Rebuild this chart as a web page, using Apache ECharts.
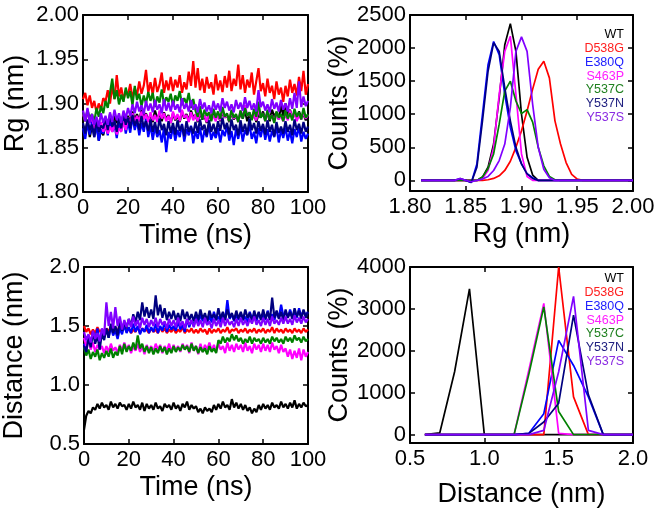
<!DOCTYPE html>
<html><head><meta charset="utf-8">
<script src="https://cdn.jsdelivr.net/npm/echarts@6/dist/echarts.min.js"></script>
<style>html,body{margin:0;padding:0;background:#fff}#c{width:661px;height:510px}</style>
</head><body><div id="c"></div>
<script>
const names = ['WT','D538G','E380Q','S463P','Y537C','Y537N','Y537S'];
const colors = ['#000000','#ff0000','#0000ff','#ff00ff','#008000','#000080','#8000ff'];
const legendColors = ['#000000','#ff2020','#2020ff','#ff20ff','#208020','#202080','#8a2be2'];

const time = [0,1,2,3,4,5,6,7,8,9,10,11,12,13,14,15,16,17,18,19,20,21,22,23,24,25,26,27,28,29,30,31,32,33,34,35,36,37,38,39,40,41,42,43,44,45,46,47,48,49,50,51,52,53,54,55,56,57,58,59,60,61,62,63,64,65,66,67,68,69,70,71,72,73,74,75,76,77,78,79,80,81,82,83,84,85,86,87,88,89,90,91,92,93,94,95,96,97,98,99,100];

// Rg (nm) vs time
const rgWT = [1.875,1.868,1.880,1.862,1.874,1.866,1.878,1.858,1.870,1.864,
1.876,1.870,1.882,1.873,1.886,1.878,1.884,1.876,1.889,1.880,
1.886,1.879,1.891,1.882,1.888,1.880,1.893,1.884,1.889,1.881,
1.887,1.879,1.892,1.883,1.888,1.880,1.890,1.882,1.887,1.878,
1.889,1.881,1.886,1.879,1.891,1.883,1.888,1.880,1.892,1.884,
1.887,1.879,1.890,1.882,1.886,1.878,1.889,1.881,1.893,1.883,
1.888,1.880,1.891,1.884,1.887,1.879,1.890,1.882,1.886,1.881,
1.889,1.883,1.892,1.880,1.887,1.882,1.890,1.879,1.888,1.884,
1.891,1.883,1.889,1.880,1.893,1.885,1.890,1.882,1.898,1.886,
1.900,1.887,1.893,1.884,1.889,1.882,1.891,1.884,1.888,1.881,1.887];
const rgD538G = [1.905,1.912,1.898,1.909,1.895,1.903,1.890,1.900,1.893,1.906,
1.902,1.915,1.900,1.920,1.905,1.932,1.908,1.918,1.904,1.914,
1.910,1.922,1.906,1.917,1.909,1.925,1.911,1.920,1.938,1.912,
1.924,1.910,1.929,1.913,1.921,1.935,1.912,1.926,1.915,1.930,
1.914,1.927,1.918,1.932,1.912,1.924,1.916,1.936,1.920,1.948,
1.918,1.940,1.915,1.928,1.912,1.930,1.917,1.924,1.910,1.933,
1.915,1.926,1.913,1.931,1.918,1.937,1.914,1.928,1.920,1.944,
1.916,1.932,1.912,1.927,1.918,1.935,1.910,1.925,1.940,1.914,
1.923,1.908,1.928,1.912,1.920,1.905,1.925,1.910,1.918,1.902,
1.920,1.908,1.927,1.912,1.922,1.909,1.930,1.914,1.937,1.910,1.922];
const rgE380Q = [1.872,1.860,1.878,1.865,1.880,1.862,1.875,1.858,1.871,1.866,
1.878,1.864,1.882,1.868,1.876,1.861,1.880,1.869,1.884,1.866,
1.879,1.867,1.885,1.870,1.881,1.864,1.878,1.868,1.883,1.862,
1.876,1.859,1.874,1.862,1.870,1.856,1.872,1.845,1.868,1.860,
1.874,1.858,1.870,1.862,1.877,1.857,1.871,1.864,1.875,1.855,
1.869,1.860,1.873,1.856,1.870,1.862,1.876,1.859,1.868,1.861,
1.872,1.856,1.870,1.863,1.875,1.858,1.869,1.853,1.871,1.860,
1.874,1.857,1.870,1.864,1.876,1.860,1.868,1.855,1.872,1.862,
1.875,1.859,1.871,1.857,1.869,1.862,1.874,1.856,1.870,1.861,
1.873,1.858,1.869,1.855,1.871,1.862,1.874,1.857,1.868,1.860,1.866];
const rgS463P = [1.888,1.880,1.892,1.878,1.885,1.872,1.882,1.870,1.879,1.868,
1.876,1.866,1.874,1.868,1.878,1.865,1.872,1.868,1.880,1.870,
1.884,1.876,1.889,1.879,1.886,1.880,1.891,1.882,1.888,1.879,
1.890,1.881,1.887,1.879,1.892,1.883,1.889,1.880,1.886,1.878,
1.891,1.882,1.888,1.880,1.893,1.884,1.887,1.879,1.890,1.881,
1.888,1.880,1.892,1.883,1.887,1.879,1.890,1.882,1.886,1.880,
1.889,1.881,1.893,1.884,1.888,1.880,1.891,1.883,1.887,1.879,
1.892,1.884,1.898,1.886,1.890,1.882,1.888,1.881,1.893,1.885,
1.889,1.880,1.891,1.883,1.887,1.879,1.890,1.882,1.886,1.880,
1.888,1.881,1.892,1.884,1.889,1.880,1.887,1.882,1.890,1.883,1.887];
const rgY537C = [1.890,1.880,1.893,1.883,1.888,1.879,1.895,1.885,1.897,1.889,
1.903,1.895,1.912,1.928,1.905,1.915,1.899,1.910,1.902,1.918,
1.906,1.914,1.898,1.920,1.904,1.911,1.897,1.909,1.900,1.913,
1.903,1.912,1.896,1.908,1.901,1.916,1.899,1.907,1.902,1.911,
1.897,1.909,1.903,1.914,1.898,1.906,1.900,1.912,1.895,1.905,
1.892,1.885,1.897,1.882,1.893,1.886,1.890,1.880,1.894,1.884,
1.891,1.883,1.896,1.885,1.889,1.880,1.893,1.884,1.888,1.879,
1.892,1.883,1.895,1.886,1.890,1.881,1.894,1.885,1.902,1.884,
1.889,1.880,1.893,1.882,1.887,1.878,1.891,1.884,1.888,1.880,
1.892,1.883,1.889,1.881,1.894,1.885,1.890,1.882,1.895,1.884,1.888];
const rgY537N = [1.878,1.866,1.882,1.870,1.876,1.862,1.880,1.868,1.875,1.872,
1.884,1.870,1.888,1.874,1.880,1.868,1.886,1.872,1.890,1.876,
1.884,1.872,1.887,1.875,1.882,1.870,1.886,1.873,1.880,1.869,
1.882,1.868,1.879,1.866,1.883,1.870,1.877,1.864,1.880,1.867,
1.878,1.865,1.881,1.869,1.876,1.863,1.880,1.868,1.874,1.866,
1.879,1.867,1.882,1.870,1.876,1.864,1.881,1.868,1.877,1.866,
1.880,1.869,1.884,1.871,1.878,1.865,1.882,1.870,1.876,1.864,
1.881,1.868,1.877,1.865,1.883,1.870,1.878,1.866,1.880,1.869,
1.877,1.865,1.881,1.868,1.876,1.863,1.879,1.867,1.874,1.866,
1.880,1.868,1.876,1.864,1.882,1.870,1.877,1.866,1.879,1.868,1.874];
const rgY537S = [1.892,1.880,1.895,1.878,1.888,1.876,1.885,1.874,1.889,1.878,
1.886,1.876,1.890,1.879,1.893,1.881,1.889,1.878,1.892,1.883,
1.895,1.886,1.899,1.889,1.902,1.891,1.898,1.888,1.903,1.892,
1.900,1.890,1.904,1.893,1.899,1.889,1.905,1.892,1.901,1.891,
1.903,1.893,1.899,1.890,1.906,1.894,1.900,1.891,1.904,1.893,
1.899,1.890,1.905,1.894,1.901,1.891,1.898,1.889,1.903,1.893,
1.900,1.891,1.906,1.895,1.902,1.892,1.899,1.890,1.904,1.894,
1.901,1.892,1.907,1.895,1.903,1.893,1.900,1.891,1.915,1.896,
1.902,1.892,1.899,1.890,1.905,1.894,1.901,1.891,1.904,1.893,
1.900,1.891,1.906,1.894,1.912,1.895,1.925,1.896,1.908,1.897,1.903];

// Distance (nm) vs time
const dWT = [0.62,0.74,0.78,0.76,0.81,0.79,0.84,0.80,0.85,0.81,
0.83,0.79,0.86,0.81,0.84,0.80,0.85,0.82,0.83,0.79,
0.84,0.80,0.86,0.81,0.83,0.79,0.85,0.78,0.84,0.80,
0.83,0.79,0.85,0.80,0.82,0.78,0.84,0.81,0.83,0.79,
0.85,0.80,0.83,0.78,0.84,0.81,0.86,0.79,0.83,0.80,
0.82,0.77,0.80,0.76,0.81,0.78,0.80,0.77,0.83,0.79,
0.84,0.80,0.86,0.81,0.83,0.79,0.88,0.81,0.85,0.80,
0.84,0.79,0.83,0.78,0.81,0.76,0.80,0.77,0.83,0.79,
0.84,0.80,0.83,0.79,0.85,0.81,0.83,0.80,0.86,0.81,
0.84,0.80,0.85,0.81,0.87,0.80,0.84,0.81,0.85,0.82,0.83];
const dD538G = [1.50,1.45,1.48,1.43,1.47,1.44,1.49,1.45,1.47,1.44,
1.48,1.45,1.50,1.46,1.49,1.45,1.51,1.46,1.50,1.45,
1.48,1.44,1.47,1.45,1.49,1.44,1.48,1.46,1.47,1.44,
1.48,1.45,1.47,1.44,1.49,1.45,1.48,1.44,1.47,1.45,
1.48,1.44,1.47,1.45,1.49,1.44,1.47,1.45,1.48,1.44,
1.47,1.44,1.48,1.45,1.47,1.43,1.48,1.44,1.47,1.45,
1.48,1.44,1.47,1.45,1.49,1.44,1.47,1.46,1.48,1.44,
1.47,1.45,1.48,1.44,1.47,1.45,1.48,1.44,1.47,1.45,
1.48,1.44,1.47,1.45,1.49,1.44,1.48,1.45,1.47,1.44,
1.48,1.45,1.47,1.44,1.48,1.45,1.47,1.44,1.48,1.45,1.47];
const dE380Q = [1.35,1.30,1.42,1.34,1.45,1.38,1.48,1.36,1.44,1.40,
1.47,1.40,1.50,1.42,1.46,1.39,1.48,1.43,1.51,1.44,
1.49,1.44,1.52,1.45,1.50,1.43,1.48,1.45,1.51,1.44,
1.49,1.45,1.52,1.44,1.50,1.46,1.53,1.45,1.51,1.47,
1.50,1.46,1.54,1.47,1.51,1.45,1.56,1.49,1.55,1.50,
1.58,1.52,1.60,1.54,1.57,1.51,1.59,1.53,1.62,1.55,
1.58,1.53,1.61,1.55,1.72,1.56,1.60,1.54,1.59,1.55,
1.61,1.55,1.58,1.53,1.62,1.56,1.60,1.54,1.61,1.56,
1.59,1.55,1.63,1.56,1.60,1.55,1.62,1.57,1.68,1.58,
1.62,1.57,1.64,1.58,1.61,1.57,1.65,1.58,1.63,1.59,1.62];
const dS463P = [1.40,1.33,1.38,1.30,1.36,1.28,1.34,1.30,1.33,1.27,
1.33,1.28,1.35,1.29,1.32,1.27,1.34,1.29,1.36,1.30,
1.34,1.27,1.33,1.29,1.35,1.28,1.33,1.26,1.34,1.29,
1.33,1.28,1.35,1.30,1.34,1.27,1.33,1.29,1.35,1.28,
1.34,1.29,1.33,1.28,1.35,1.30,1.34,1.27,1.36,1.29,
1.33,1.26,1.35,1.28,1.34,1.30,1.36,1.29,1.34,1.28,
1.35,1.30,1.33,1.27,1.36,1.29,1.34,1.28,1.35,1.30,
1.34,1.28,1.36,1.29,1.33,1.27,1.35,1.30,1.34,1.28,
1.35,1.29,1.34,1.28,1.36,1.30,1.33,1.27,1.34,1.28,
1.31,1.24,1.30,1.22,1.29,1.23,1.31,1.21,1.30,1.24,1.28];
const dY537C = [1.32,1.25,1.30,1.22,1.28,1.24,1.30,1.21,1.27,1.23,
1.29,1.24,1.31,1.23,1.28,1.25,1.33,1.26,1.35,1.28,
1.33,1.29,1.36,1.30,1.42,1.31,1.35,1.28,1.33,1.27,
1.32,1.26,1.31,1.27,1.33,1.28,1.32,1.26,1.31,1.27,
1.33,1.28,1.32,1.29,1.34,1.30,1.33,1.28,1.35,1.29,
1.33,1.27,1.32,1.28,1.31,1.26,1.33,1.28,1.31,1.27,
1.38,1.35,1.41,1.36,1.40,1.37,1.43,1.38,1.42,1.37,
1.40,1.35,1.39,1.36,1.41,1.35,1.40,1.37,1.39,1.35,
1.40,1.36,1.39,1.35,1.41,1.37,1.40,1.36,1.39,1.35,
1.41,1.37,1.40,1.36,1.42,1.38,1.40,1.36,1.41,1.37,1.39];
const dY537N = [1.33,1.28,1.40,1.32,1.45,1.35,1.42,1.30,1.44,1.38,
1.48,1.40,1.52,1.44,1.50,1.42,1.55,1.46,1.53,1.48,
1.56,1.50,1.60,1.53,1.62,1.55,1.70,1.58,1.66,1.57,
1.64,1.56,1.76,1.59,1.68,1.57,1.65,1.55,1.62,1.56,
1.63,1.55,1.61,1.54,1.64,1.56,1.62,1.55,1.60,1.54,
1.62,1.55,1.64,1.56,1.61,1.54,1.63,1.57,1.60,1.55,
1.65,1.56,1.62,1.55,1.64,1.57,1.61,1.55,1.63,1.56,
1.62,1.55,1.64,1.57,1.61,1.54,1.63,1.56,1.62,1.55,
1.64,1.56,1.62,1.55,1.74,1.57,1.63,1.56,1.62,1.55,
1.64,1.57,1.62,1.56,1.65,1.58,1.63,1.56,1.64,1.57,1.62];
const dY537S = [1.45,1.38,1.43,1.36,1.46,1.39,1.44,1.37,1.48,1.42,
1.70,1.50,1.62,1.48,1.66,1.50,1.58,1.47,1.55,1.49,
1.56,1.49,1.58,1.50,1.55,1.48,1.57,1.51,1.56,1.49,
1.55,1.50,1.57,1.49,1.56,1.51,1.54,1.48,1.56,1.50,
1.55,1.49,1.57,1.50,1.54,1.48,1.56,1.51,1.55,1.49,
1.56,1.50,1.55,1.49,1.57,1.51,1.54,1.48,1.56,1.50,
1.55,1.49,1.57,1.50,1.56,1.51,1.54,1.49,1.56,1.50,
1.57,1.51,1.55,1.50,1.56,1.52,1.58,1.51,1.55,1.50,
1.57,1.51,1.56,1.50,1.58,1.52,1.55,1.51,1.57,1.52,
1.58,1.52,1.56,1.51,1.59,1.53,1.57,1.52,1.58,1.53,1.56];

// Rg histogram
const rgBins = [1.810,1.815,1.820,1.825,1.830,1.835,1.840,1.845,1.850,1.855,1.860,1.865,1.870,1.875,1.880,1.885,1.890,1.895,1.900,1.905,1.910,1.915,1.920,1.925,1.930,1.935,1.940,1.945,1.950,1.955,1.960,1.965,1.970,1.975,1.980,1.985,1.990,1.995,2.000];
const hRgWT    = [0,0,0,0,0,0,0,0,0,0,0,50,200,550,1250,2050,2370,1950,1000,350,80,0,0,0,0,0,0,0,0,0,0,0,0,0,0,0,0,0,0];
const hRgD538G = [0,0,0,0,0,0,0,0,0,0,0,0,10,30,70,150,290,500,750,1050,1380,1680,1800,1550,900,550,270,90,20,0,0,0,0,0,0,0,0,0,0];
const hRgE380Q = [0,0,0,0,0,0,0,10,0,-30,250,1000,1750,2100,1900,1300,800,450,250,100,40,0,0,0,0,0,0,0,0,0,0,0,0,0,0,0,0,0,0];
const hRgS463P = [0,0,0,0,0,0,0,0,0,0,0,30,150,500,1300,1950,2180,1300,400,60,0,0,0,0,0,0,0,0,0,0,0,0,0,0,0,0,0,0,0];
const hRgY537C = [0,0,0,0,0,0,0,0,0,0,0,50,180,400,850,1350,1500,1200,1010,1070,880,500,220,60,10,0,0,0,0,0,0,0,0,0,0,0,0,0,0];
const hRgY537N = [0,0,0,0,0,0,0,30,0,-30,200,900,1650,2080,1950,1400,900,500,250,100,30,0,0,0,0,0,0,0,0,0,0,0,0,0,0,0,0,0,0];
const hRgY537S = [0,0,0,0,0,0,0,30,0,-20,0,20,60,150,300,550,1100,1950,2170,1950,1150,500,170,40,0,0,0,0,0,0,0,0,0,0,0,0,0,0,0];

// Distance histogram
const dBins = [0.6,0.7,0.8,0.9,1.0,1.1,1.2,1.3,1.4,1.5,1.6,1.7,1.8,1.9,2.0];
const hDWT    = [0,40,1500,3480,0,0,0,0,0,0,0,0,0,0,0];
const hDD538G = [0,0,0,0,0,0,0,0,0,4000,900,0,0,0,0];
const hDE380Q = [0,0,0,0,0,0,0,30,500,2250,1650,900,0,0,0];
const hDS463P = [0,0,0,0,0,0,0,1550,3130,30,0,0,0,0,0];
const hDY537C = [0,0,0,0,0,0,0,1450,3050,550,0,0,0,0,0];
const hDY537N = [0,0,0,0,0,0,0,30,300,750,2850,950,0,0,0];
const hDY537S = [0,0,0,0,0,0,0,0,100,1500,3300,100,0,0,0];

const rgSeries = [rgWT,rgD538G,rgE380Q,rgS463P,rgY537C,rgY537N,rgY537S];
const dSeries  = [dWT,dD538G,dE380Q,dS463P,dY537C,dY537N,dY537S];
const hRg = [hRgWT,hRgD538G,hRgE380Q,hRgS463P,hRgY537C,hRgY537N,hRgY537S];
const hD  = [hDWT,hDD538G,hDE380Q,hDS463P,hDY537C,hDY537N,hDY537S];

const FONT = '"Liberation Sans", Arial, Helvetica, sans-serif';
const TICK_FS = 22, NAME_FS = 27;

const grids = [
  {left: 83, top: 15, width: 225, height: 177},
  {left: 410, top: 15, width: 223, height: 176},
  {left: 83, top: 267, width: 225, height: 177},
  {left: 410, top: 267, width: 223, height: 176}
];

function baseAxis(extra) {
  return Object.assign({
    type: 'value',
    axisLine: {show: true, onZero: false, lineStyle: {color: '#000', width: 2}},
    axisTick: {show: true, inside: true, length: 5, lineStyle: {color: '#000', width: 1.5}},
    splitLine: {show: false},
    axisLabel: {color: '#000', fontSize: TICK_FS, fontFamily: FONT, margin: 5},
    nameTextStyle: {color: '#000', fontSize: NAME_FS, fontFamily: FONT},
    nameLocation: 'middle'
  }, extra);
}

const xSpec = [
  {min: 0, max: 100, interval: 20, fmt: v => String(Math.round(v)), name: 'Time (ns)', gap: 30},
  {min: 1.8, max: 2.0, interval: 0.05, fmt: v => v.toFixed(2), name: 'Rg (nm)', gap: 30},
  {min: 0, max: 100, interval: 20, fmt: v => String(Math.round(v)), name: 'Time (ns)', gap: 30},
  {min: 0.5, max: 2.0, interval: 0.5, fmt: v => v.toFixed(1), name: 'Distance (nm)', gap: 38}
];
const ySpec = [
  {min: 1.8, max: 2.0, interval: 0.05, fmt: v => v.toFixed(2), name: 'Rg (nm)', gap: 54},
  {min: -160, max: 2500, custom: [0,500,1000,1500,2000,2500], fmt: v => String(v), name: 'Counts (%)', gap: 45},
  {min: 0.5, max: 2.0, interval: 0.5, fmt: v => v.toFixed(1), name: 'Distance (nm)', gap: 56},
  {min: -200, max: 4000, custom: [0,1000,2000,3000,4000], fmt: v => String(v), name: 'Counts (%)', gap: 47}
];

const xAxes = [], yAxes = [];
grids.forEach((g, i) => {
  const xs = xSpec[i], ys = ySpec[i];
  xAxes.push(baseAxis({gridIndex: i, position: 'bottom', min: xs.min, max: xs.max, interval: xs.interval,
    name: xs.name, nameGap: xs.gap,
    axisLabel: {color: '#000', fontSize: TICK_FS, fontFamily: FONT, margin: 5, formatter: xs.fmt, showMinLabel: true, showMaxLabel: true}}));
  xAxes.push(baseAxis({gridIndex: i, position: 'top', min: xs.min, max: xs.max, interval: xs.interval,
    axisLabel: {show: false}}));
  const yl = {color: '#000', fontSize: TICK_FS, fontFamily: FONT, margin: 4, formatter: ys.fmt};
  const yt = {show: true, inside: true, length: 5, lineStyle: {color: '#000', width: 1.5}};
  if (ys.custom) { yl.customValues = ys.custom; yt.customValues = ys.custom; }
  yAxes.push(baseAxis({gridIndex: i, position: 'left', min: ys.min, max: ys.max,
    interval: ys.interval, name: ys.name, nameGap: ys.gap, nameRotate: 90,
    axisLabel: yl, axisTick: yt}));
  yAxes.push(baseAxis({gridIndex: i, position: 'right', min: ys.min, max: ys.max,
    interval: ys.interval, axisLabel: {show: false}, axisTick: Object.assign({}, yt)}));
});

const TS_W = 2.2, H_W = 1.7;
const series = [];
names.forEach((n, k) => {
  series.push({name: n, type: 'line', xAxisIndex: 0, yAxisIndex: 0, showSymbol: false, symbol: 'none',
    data: time.map((t, j) => [t, rgSeries[k][j]]), lineStyle: {color: colors[k], width: TS_W}, itemStyle: {color: colors[k]}});
  series.push({name: n, type: 'line', xAxisIndex: 2, yAxisIndex: 2, showSymbol: false, symbol: 'none',
    data: rgBins.map((x, j) => [x, hRg[k][j]]), lineStyle: {color: colors[k], width: H_W}, itemStyle: {color: colors[k]}});
  series.push({name: n, type: 'line', xAxisIndex: 4, yAxisIndex: 4, showSymbol: false, symbol: 'none',
    data: time.map((t, j) => [t, dSeries[k][j]]), lineStyle: {color: colors[k], width: TS_W}, itemStyle: {color: colors[k]}});
  series.push({name: n, type: 'line', xAxisIndex: 6, yAxisIndex: 6, showSymbol: false, symbol: 'none',
    data: dBins.map((x, j) => [x, hD[k][j]]), lineStyle: {color: colors[k], width: H_W}, itemStyle: {color: colors[k]}});
});

const legendTop = [35, 279];
const graphic = [];
legendTop.forEach(y0 => {
  names.forEach((n, k) => {
    graphic.push({type: 'text', x: 624, y: y0 + k * 13.7,
      style: {text: n, fill: legendColors[k], font: '12.5px ' + FONT, textAlign: 'right', textVerticalAlign: 'middle'}});
  });
});

const chart = echarts.init(document.getElementById('c'), null, {renderer: 'canvas'});
chart.setOption({
  animation: false,
  backgroundColor: '#fff',
  grid: grids,
  xAxis: xAxes,
  yAxis: yAxes,
  series: series,
  graphic: graphic
});
</script></body></html>
